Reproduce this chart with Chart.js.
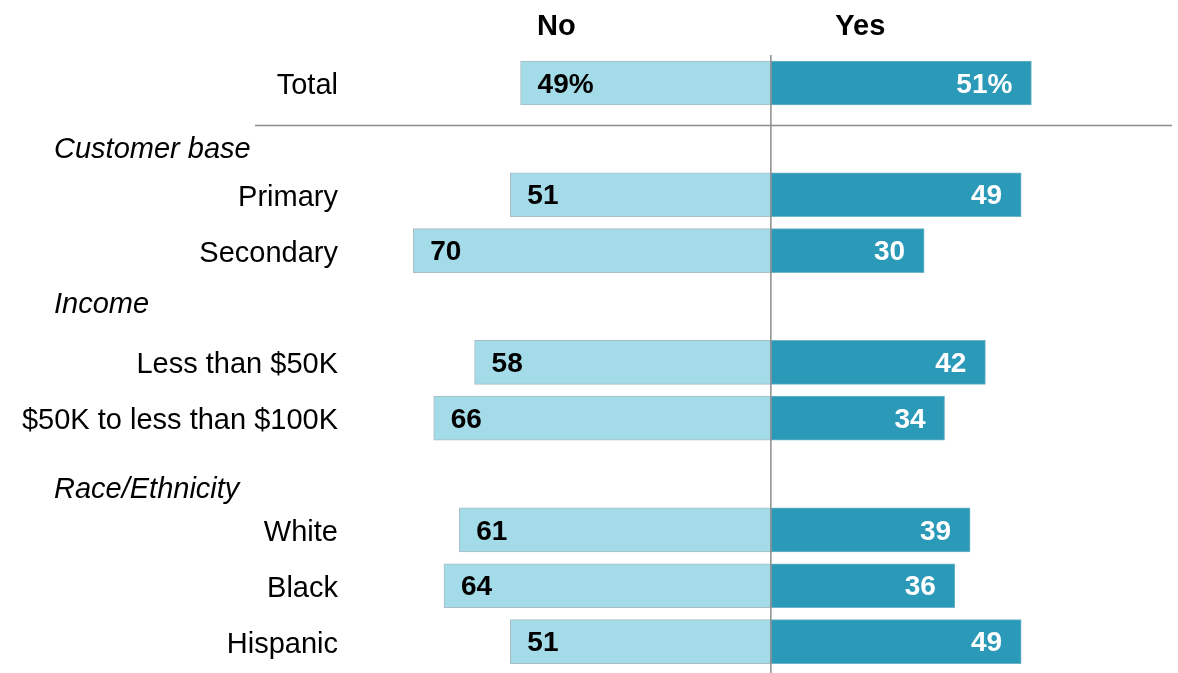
<!DOCTYPE html>
<html>
<head>
<meta charset="utf-8">
<script src="https://cdn.jsdelivr.net/npm/chart.js@4"></script>
<style>
  html, body { margin: 0; padding: 0; background: #fff; }
  #wrap { width: 1178px; height: 673px; position: relative; }
</style>
</head>
<body>
<div id="wrap"><canvas id="grafico"></canvas></div>
<script>
// rows, including the italic group headings (they carry no bars)
const categories = ['Total', 'Customer base', 'Primary', 'Secondary', 'Income',
    'Less than $50K', '$50K to less than $100K', 'Race/Ethnicity', 'White', 'Black', 'Hispanic'];
const headings = ['Customer base', 'Income', 'Race/Ethnicity'];
const seriesNames = ['No', 'Yes'];
const noValues = [49, null, 51, 70, null, 58, 66, null, 61, 64, 51];
const yesValues = [51, null, 49, 30, null, 42, 34, null, 39, 36, 49];

const FONT = "'Liberation Sans', Arial, sans-serif";
const corClara = '#a3dbe8';
const corEscura = '#2a9ab8';

// small nudges for the heading rows
const headingShift = { 'Customer base': 11, 'Income': -2, 'Race/Ethnicity': 16 };

const extras = {
    id: 'extras',
    afterDatasetsDraw(chart) {
        const c = chart.ctx;
        const x = chart.scales.x;
        const y = chart.scales.y;
        const zero = x.getPixelForValue(0);
        const step = y.getPixelForValue(1) - y.getPixelForValue(0);
        c.save();

        // linha central
        c.strokeStyle = '#8c8c8c';
        c.lineWidth = 1.5;
        c.beginPath();
        c.moveTo(zero, 55);
        c.lineTo(zero, chart.height);
        c.stroke();

        // separador abaixo do total
        const sepY = Math.round(y.getPixelForValue(0) + step * 0.75) + 0.5;
        c.beginPath();
        c.moveTo(255, sepY);
        c.lineTo(1172, sepY);
        c.stroke();

        // títulos das colunas
        c.fillStyle = '#000';
        c.font = 'bold 29px ' + FONT;
        c.textAlign = 'center';
        c.textBaseline = 'middle';
        c.fillText(seriesNames[0], x.getPixelForValue(-42), 27);
        c.fillText(seriesNames[1], x.getPixelForValue(17.5), 27);

        // cabeçalhos dos grupos
        c.font = 'italic 29px ' + FONT;
        c.textAlign = 'left';
        headings.forEach(h => {
            const idx = categories.indexOf(h);
            c.fillText(h, 54, y.getPixelForValue(idx) + headingShift[h]);
        });

        // rótulos de valor
        c.font = 'bold 28px ' + FONT;
        chart.getDatasetMeta(0).data.forEach((bar, i) => {
            if (noValues[i] == null) return;
            c.fillStyle = '#000';
            c.textAlign = 'left';
            c.fillText(noValues[i] + (i === 0 ? '%' : ''), bar.x + 17, bar.y + 2);
        });
        chart.getDatasetMeta(1).data.forEach((bar, i) => {
            if (yesValues[i] == null) return;
            c.fillStyle = '#fff';
            c.textAlign = 'right';
            c.fillText(yesValues[i] + (i === 0 ? '%' : ''), bar.x - 19, bar.y + 2);
        });
        c.restore();
    }
};

const grafico = new Chart(document.getElementById('grafico'), {
    type: 'bar',
    data: {
        labels: categories,
        datasets: [{
            label: seriesNames[0],
            data: noValues.map(v => v == null ? null : -v),
            backgroundColor: corClara,
            borderColor: '#a9bcc2',
            borderWidth: 1,
            borderSkipped: false,
            barThickness: 44,
            clip: false
        }, {
            label: seriesNames[1],
            data: yesValues,
            backgroundColor: corEscura,
            borderColor: '#6fb3c6',
            borderWidth: 1,
            borderSkipped: false,
            barThickness: 44,
            clip: false
        }]
    },
    options: {
        indexAxis: 'y',
        responsive: true,
        maintainAspectRatio: false,
        animation: false,
        layout: { padding: { top: 83, bottom: 23, left: 0, right: 0 } },
        plugins: {
            legend: { display: false },
            tooltip: { enabled: false }
        },
        scales: {
            x: {
                stacked: true,
                display: false,
                min: -82,
                max: 79.7
            },
            y: {
                stacked: true,
                offset: false,
                grid: { display: false, drawTicks: false },
                border: { display: false },
                afterFit(scale) { scale.width = 352; },
                ticks: {
                    padding: 14,
                    labelOffset: 3,
                    color: '#000',
                    font: { family: FONT, size: 29 },
                    callback(value) {
                        const label = categories[value];
                        return headings.includes(label) ? '' : label;
                    }
                }
            }
        }
    },
    plugins: [extras]
});
</script>
</body>
</html>
